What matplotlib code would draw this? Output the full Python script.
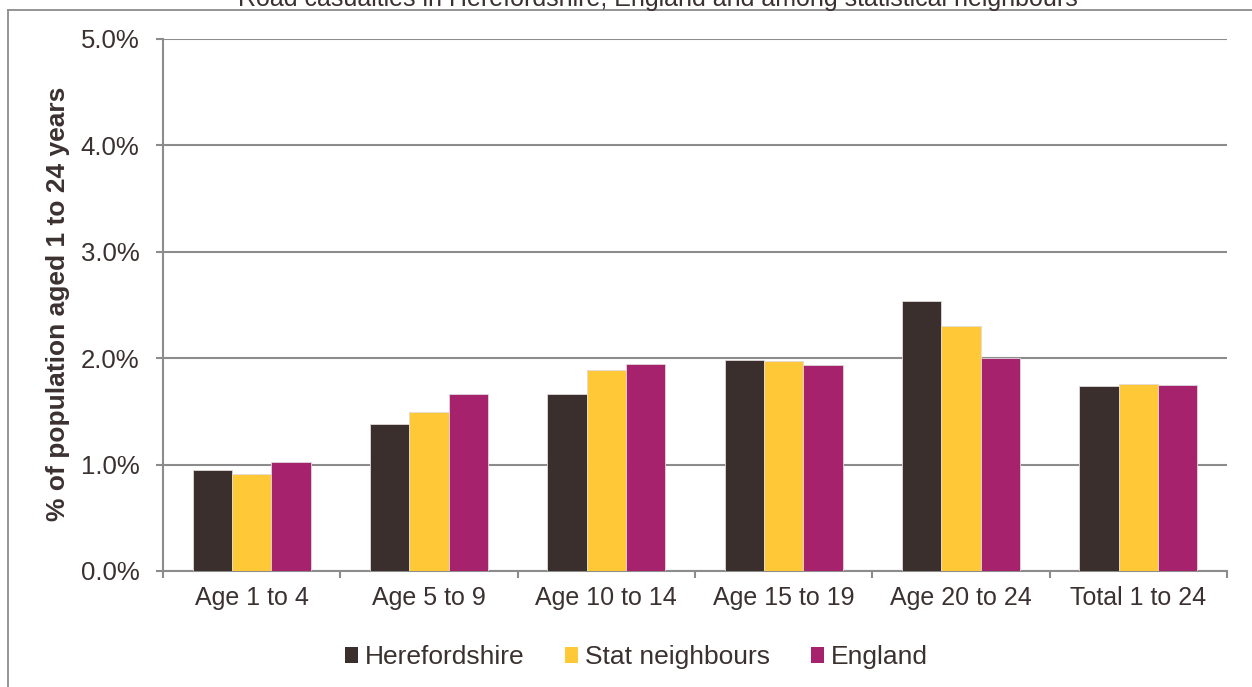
import matplotlib

matplotlib.use("Agg")
import matplotlib.pyplot as plt
import numpy as np
from matplotlib.lines import Line2D
from matplotlib.patches import Patch

plt.rcParams["font.family"] = ["Liberation Sans", "DejaVu Sans"]

categories = ["Age 1 to 4", "Age 5 to 9", "Age 10 to 14", "Age 15 to 19", "Age 20 to 24", "Total 1 to 24"]
series_names = ["Herefordshire", "Stat neighbours", "England"]
herefordshire = [0.95, 1.38, 1.66, 1.98, 2.54, 1.74]
stat_neighbours = [0.91, 1.49, 1.89, 1.97, 2.30, 1.76]
england = [1.02, 1.66, 1.95, 1.94, 2.00, 1.75]
y_ticks = [0, 1, 2, 3, 4, 5]

colours = ["#3a2f2d", "#ffc836", "#a6226d"]
text_col = "#3a3130"
line_col = "#8c8c8c"

W, H = 1252, 687
fig = plt.figure(figsize=(W / 100, H / 100), dpi=100)
ax = fig.add_axes([163 / W, 1 - 571 / H, (1227 - 163) / W, (571 - 39) / H])

x = np.arange(len(categories))
width = 0.222
for i, (vals, col) in enumerate(zip([herefordshire, stat_neighbours, england], colours)):
    ax.bar(x + (i - 1) * width, vals, width, color=col, edgecolor="#e0dada",
           linewidth=0.6, zorder=3)

ax.set_xlim(-0.5, len(categories) - 0.5)
ax.set_ylim(0, 5)
ax.set_yticks(y_ticks)
ax.set_yticklabels([f"{v:.1f}%" for v in y_ticks])
ax.yaxis.grid(True, color=line_col, linewidth=1.5, zorder=0)
ax.set_axisbelow(True)

# category boundaries carry the tick marks, labels sit at the centres
ax.set_xticks(np.arange(-0.5, len(categories)), labels=[""] * (len(categories) + 1))
ax.set_xticks(x, labels=categories, minor=True)
ax.tick_params(axis="x", which="major", length=5, width=1.5, color=line_col, direction="out")
ax.tick_params(axis="x", which="minor", length=0, pad=11, labelsize=18, labelcolor=text_col)
ax.tick_params(axis="y", length=5, width=1.5, color=line_col, pad=12, labelsize=18.5,
               labelcolor=text_col)

for side in ["top", "right"]:
    ax.spines[side].set_visible(False)
for side in ["left", "bottom"]:
    ax.spines[side].set_color(line_col)
    ax.spines[side].set_linewidth(1.5)

fig.text(58 / W, 1 - 304 / H, "% of population aged 1 to 24 years", rotation=90,
         ha="center", va="center", fontsize=19, fontweight="bold", color=text_col)

handles = [Patch(facecolor=c, edgecolor="none") for c in colours]
fig.legend(handles, series_names, loc="center", bbox_to_anchor=(636 / W, 1 - 657 / H),
           ncol=3, frameon=False, fontsize=19, handlelength=0.5, handleheight=0.55,
           handletextpad=0.25, columnspacing=1.55, labelcolor=text_col)

# chart caption sitting above the chart border
fig.text(658 / W, 1 - 6.0 / H,
         "Road casualties in Herefordshire, England and among statistical neighbours",
         ha="center", va="baseline", fontsize=18, color=text_col)

# chart area border
fig.add_artist(Line2D([8 / W, 8 / W], [0, 1 - 10 / H], color=line_col, linewidth=1.3))
fig.add_artist(Line2D([8 / W, 1], [1 - 10 / H, 1 - 10 / H], color=line_col, linewidth=1.3))

fig.savefig("out.png", dpi=100)
